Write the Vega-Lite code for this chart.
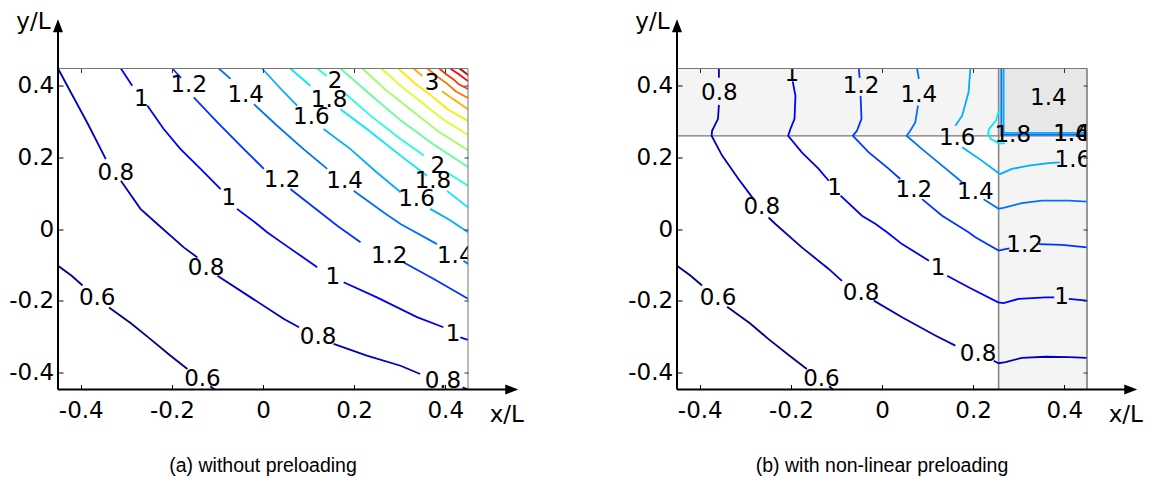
{
"$schema": "https://vega.github.io/schema/vega-lite/v6.json",
"background": "white",
"padding": {"left": 8, "top": 10.5, "right": 5, "bottom": 5},
"config": {"view": {"stroke": null}, "font": "DejaVu Sans"},
"bounds": "flush",
"spacing": 209,
"datasets": {
"aLines": [
{"s":"a06a","lv":0.6,"x":-0.45,"y":-0.102},{"s":"a06a","lv":0.6,"x":-0.42,"y":-0.13},{"s":"a06a","lv":0.6,"x":-0.396,"y":-0.157},
{"s":"a06b","lv":0.6,"x":-0.338,"y":-0.218},{"s":"a06b","lv":0.6,"x":-0.29,"y":-0.262},{"s":"a06b","lv":0.6,"x":-0.247,"y":-0.306},{"s":"a06b","lv":0.6,"x":-0.205,"y":-0.35},{"s":"a06b","lv":0.6,"x":-0.166,"y":-0.389},
{"s":"a06c","lv":0.6,"x":-0.116,"y":-0.437},{"s":"a06c","lv":0.6,"x":-0.106,"y":-0.446},
{"s":"a08a","lv":0.8,"x":-0.45,"y":0.446},{"s":"a08a","lv":0.8,"x":-0.422,"y":0.38},{"s":"a08a","lv":0.8,"x":-0.386,"y":0.296},{"s":"a08a","lv":0.8,"x":-0.345,"y":0.194},
{"s":"a08b","lv":0.8,"x":-0.312,"y":0.134},{"s":"a08b","lv":0.8,"x":-0.269,"y":0.056},{"s":"a08b","lv":0.8,"x":-0.232,"y":0.014},{"s":"a08b","lv":0.8,"x":-0.174,"y":-0.051},{"s":"a08b","lv":0.8,"x":-0.144,"y":-0.079},
{"s":"a08c","lv":0.8,"x":-0.1,"y":-0.13},{"s":"a08c","lv":0.8,"x":-0.027,"y":-0.19},{"s":"a08c","lv":0.8,"x":0.046,"y":-0.25},{"s":"a08c","lv":0.8,"x":0.079,"y":-0.273},
{"s":"a08d","lv":0.8,"x":0.155,"y":-0.319},{"s":"a08d","lv":0.8,"x":0.228,"y":-0.352},{"s":"a08d","lv":0.8,"x":0.302,"y":-0.38},{"s":"a08d","lv":0.8,"x":0.345,"y":-0.403},
{"s":"a08e","lv":0.8,"x":0.438,"y":-0.44},{"s":"a08e","lv":0.8,"x":0.45,"y":-0.446},
{"s":"a10a","lv":1.0,"x":-0.312,"y":0.446},{"s":"a10a","lv":1.0,"x":-0.287,"y":0.398},
{"s":"a10b","lv":1.0,"x":-0.254,"y":0.343},{"s":"a10b","lv":1.0,"x":-0.218,"y":0.278},{"s":"a10b","lv":1.0,"x":-0.181,"y":0.222},{"s":"a10b","lv":1.0,"x":-0.137,"y":0.167},{"s":"a10b","lv":1.0,"x":-0.093,"y":0.111},
{"s":"a10c","lv":1.0,"x":-0.057,"y":0.056},{"s":"a10c","lv":1.0,"x":-0.013,"y":0.014},{"s":"a10c","lv":1.0,"x":0.009,"y":-0.009},{"s":"a10c","lv":1.0,"x":0.046,"y":-0.042},{"s":"a10c","lv":1.0,"x":0.119,"y":-0.106},
{"s":"a10d","lv":1.0,"x":0.177,"y":-0.148},{"s":"a10d","lv":1.0,"x":0.25,"y":-0.19},{"s":"a10d","lv":1.0,"x":0.338,"y":-0.245},{"s":"a10d","lv":1.0,"x":0.396,"y":-0.273},
{"s":"a10e","lv":1.0,"x":0.433,"y":-0.301},{"s":"a10e","lv":1.0,"x":0.45,"y":-0.308},
{"s":"a12a","lv":1.2,"x":-0.199,"y":0.446},{"s":"a12a","lv":1.2,"x":-0.18,"y":0.42},
{"s":"a12b","lv":1.2,"x":-0.152,"y":0.366},{"s":"a12b","lv":1.2,"x":-0.1,"y":0.296},{"s":"a12b","lv":1.2,"x":-0.042,"y":0.222},{"s":"a12b","lv":1.2,"x":0.002,"y":0.167},
{"s":"a12c","lv":1.2,"x":0.06,"y":0.111},{"s":"a12c","lv":1.2,"x":0.126,"y":0.046},{"s":"a12c","lv":1.2,"x":0.163,"y":0.009},{"s":"a12c","lv":1.2,"x":0.214,"y":-0.037},
{"s":"a12d","lv":1.2,"x":0.309,"y":-0.093},{"s":"a12d","lv":1.2,"x":0.375,"y":-0.139},{"s":"a12d","lv":1.2,"x":0.45,"y":-0.194},
{"s":"a14a","lv":1.4,"x":-0.097,"y":0.446},{"s":"a14a","lv":1.4,"x":-0.071,"y":0.417},
{"s":"a14b","lv":1.4,"x":-0.02,"y":0.347},{"s":"a14b","lv":1.4,"x":0.031,"y":0.287},{"s":"a14b","lv":1.4,"x":0.089,"y":0.222},{"s":"a14b","lv":1.4,"x":0.141,"y":0.167},
{"s":"a14c","lv":1.4,"x":0.199,"y":0.106},{"s":"a14c","lv":1.4,"x":0.265,"y":0.046},{"s":"a14c","lv":1.4,"x":0.302,"y":0.014},{"s":"a14c","lv":1.4,"x":0.382,"y":-0.042},
{"s":"a14d","lv":1.4,"x":0.44,"y":-0.088},{"s":"a14d","lv":1.4,"x":0.45,"y":-0.097},
{"s":"a16a","lv":1.6,"x":-0.002,"y":0.446},{"s":"a16a","lv":1.6,"x":0.046,"y":0.38},{"s":"a16a","lv":1.6,"x":0.075,"y":0.343},
{"s":"a16b","lv":1.6,"x":0.133,"y":0.278},{"s":"a16b","lv":1.6,"x":0.192,"y":0.222},{"s":"a16b","lv":1.6,"x":0.25,"y":0.157},{"s":"a16b","lv":1.6,"x":0.302,"y":0.102},
{"s":"a16c","lv":1.6,"x":0.367,"y":0.056},{"s":"a16c","lv":1.6,"x":0.41,"y":0.025},{"s":"a16c","lv":1.6,"x":0.45,"y":-0.009},
{"s":"a18a","lv":1.8,"x":0.06,"y":0.446},{"s":"a18a","lv":1.8,"x":0.104,"y":0.398},
{"s":"a18b","lv":1.8,"x":0.17,"y":0.333},{"s":"a18b","lv":1.8,"x":0.228,"y":0.278},{"s":"a18b","lv":1.8,"x":0.302,"y":0.204},{"s":"a18b","lv":1.8,"x":0.36,"y":0.148},
{"s":"a18c","lv":1.8,"x":0.404,"y":0.106},{"s":"a18c","lv":1.8,"x":0.45,"y":0.06},
{"s":"a20a","lv":2.0,"x":0.119,"y":0.446},{"s":"a20a","lv":2.0,"x":0.14,"y":0.425},
{"s":"a20b","lv":2.0,"x":0.177,"y":0.38},{"s":"a20b","lv":2.0,"x":0.236,"y":0.315},{"s":"a20b","lv":2.0,"x":0.302,"y":0.25},{"s":"a20b","lv":2.0,"x":0.353,"y":0.204},
{"s":"a20c","lv":2.0,"x":0.404,"y":0.157},{"s":"a20c","lv":2.0,"x":0.45,"y":0.12},
{"s":"a22","lv":2.2,"x":0.17,"y":0.446},{"s":"a22","lv":2.2,"x":0.236,"y":0.373},{"s":"a22","lv":2.2,"x":0.302,"y":0.302},{"s":"a22","lv":2.2,"x":0.373,"y":0.236},{"s":"a22","lv":2.2,"x":0.45,"y":0.172},
{"s":"a24","lv":2.4,"x":0.218,"y":0.446},{"s":"a24","lv":2.4,"x":0.27,"y":0.386},{"s":"a24","lv":2.4,"x":0.328,"y":0.328},{"s":"a24","lv":2.4,"x":0.386,"y":0.27},{"s":"a24","lv":2.4,"x":0.45,"y":0.219},
{"s":"a26","lv":2.6,"x":0.26,"y":0.446},{"s":"a26","lv":2.6,"x":0.305,"y":0.395},{"s":"a26","lv":2.6,"x":0.35,"y":0.35},{"s":"a26","lv":2.6,"x":0.395,"y":0.305},{"s":"a26","lv":2.6,"x":0.45,"y":0.261},
{"s":"a28","lv":2.8,"x":0.297,"y":0.446},{"s":"a28","lv":2.8,"x":0.333,"y":0.405},{"s":"a28","lv":2.8,"x":0.37,"y":0.37},{"s":"a28","lv":2.8,"x":0.405,"y":0.333},{"s":"a28","lv":2.8,"x":0.45,"y":0.3},
{"s":"a30a","lv":3.0,"x":0.33,"y":0.446},{"s":"a30a","lv":3.0,"x":0.35,"y":0.425},
{"s":"a30b","lv":3.0,"x":0.393,"y":0.383},{"s":"a30b","lv":3.0,"x":0.415,"y":0.363},{"s":"a30b","lv":3.0,"x":0.45,"y":0.333},
{"s":"a32","lv":3.2,"x":0.361,"y":0.446},{"s":"a32","lv":3.2,"x":0.383,"y":0.423},{"s":"a32","lv":3.2,"x":0.404,"y":0.404},{"s":"a32","lv":3.2,"x":0.423,"y":0.383},{"s":"a32","lv":3.2,"x":0.45,"y":0.364},
{"s":"a34","lv":3.4,"x":0.387,"y":0.446},{"s":"a34","lv":3.4,"x":0.402,"y":0.43},{"s":"a34","lv":3.4,"x":0.417,"y":0.417},{"s":"a34","lv":3.4,"x":0.43,"y":0.402},{"s":"a34","lv":3.4,"x":0.45,"y":0.389},
{"s":"a36","lv":3.6,"x":0.411,"y":0.446},{"s":"a36","lv":3.6,"x":0.43,"y":0.43},{"s":"a36","lv":3.6,"x":0.45,"y":0.411},
{"s":"a38","lv":3.8,"x":0.431,"y":0.446},{"s":"a38","lv":3.8,"x":0.439,"y":0.439},{"s":"a38","lv":3.8,"x":0.45,"y":0.428}
],
"aLabels": [
{"t":"0.6","x":-0.364,"y":-0.192},{"t":"0.6","x":-0.133,"y":-0.417},
{"t":"0.8","x":-0.323,"y":0.157},{"t":"0.8","x":-0.125,"y":-0.107},{"t":"0.8","x":0.121,"y":-0.301},{"t":"0.8","x":0.395,"y":-0.421},
{"t":"1","x":-0.267,"y":0.36},{"t":"1","x":-0.075,"y":0.086},{"t":"1","x":0.153,"y":-0.132},{"t":"1","x":0.417,"y":-0.293},
{"t":"1.2","x":-0.163,"y":0.399},{"t":"1.2","x":0.042,"y":0.136},{"t":"1.2","x":0.277,"y":-0.074},
{"t":"1.4","x":-0.038,"y":0.371},{"t":"1.4","x":0.179,"y":0.132},{"t":"1.4","x":0.422,"y":-0.074},
{"t":"1.6","x":0.106,"y":0.31},{"t":"1.6","x":0.337,"y":0.083},
{"t":"1.8","x":0.145,"y":0.358},{"t":"1.8","x":0.373,"y":0.132},
{"t":"2","x":0.158,"y":0.41},{"t":"2","x":0.384,"y":0.176},
{"t":"3","x":0.371,"y":0.407}
],
"bLines": [
{"s":"b06a","lv":0.6,"x":-0.45,"y":-0.102},{"s":"b06a","lv":0.6,"x":-0.42,"y":-0.13},{"s":"b06a","lv":0.6,"x":-0.395,"y":-0.157},
{"s":"b06b","lv":0.6,"x":-0.34,"y":-0.216},{"s":"b06b","lv":0.6,"x":-0.29,"y":-0.262},{"s":"b06b","lv":0.6,"x":-0.249,"y":-0.306},{"s":"b06b","lv":0.6,"x":-0.205,"y":-0.35},{"s":"b06b","lv":0.6,"x":-0.165,"y":-0.389},
{"s":"b06c","lv":0.6,"x":-0.116,"y":-0.437},{"s":"b06c","lv":0.6,"x":-0.108,"y":-0.446},
{"s":"b08a","lv":0.8,"x":-0.358,"y":0.446},{"s":"b08a","lv":0.8,"x":-0.358,"y":0.42},
{"s":"b08b","lv":0.8,"x":-0.358,"y":0.345},{"s":"b08b","lv":0.8,"x":-0.36,"y":0.306},{"s":"b08b","lv":0.8,"x":-0.373,"y":0.273},{"s":"b08b","lv":0.8,"x":-0.374,"y":0.259},{"s":"b08b","lv":0.8,"x":-0.351,"y":0.204},{"s":"b08b","lv":0.8,"x":-0.315,"y":0.139},{"s":"b08b","lv":0.8,"x":-0.282,"y":0.083},
{"s":"b08c","lv":0.8,"x":-0.249,"y":0.032},{"s":"b08c","lv":0.8,"x":-0.234,"y":0.014},{"s":"b08c","lv":0.8,"x":-0.176,"y":-0.051},{"s":"b08c","lv":0.8,"x":-0.117,"y":-0.111},{"s":"b08c","lv":0.8,"x":-0.088,"y":-0.144},
{"s":"b08d","lv":0.8,"x":-0.018,"y":-0.199},{"s":"b08d","lv":0.8,"x":0.044,"y":-0.245},{"s":"b08d","lv":0.8,"x":0.117,"y":-0.296},{"s":"b08d","lv":0.8,"x":0.161,"y":-0.324},
{"s":"b08e","lv":0.8,"x":0.245,"y":-0.366},{"s":"b08e","lv":0.8,"x":0.256,"y":-0.373},{"s":"b08e","lv":0.8,"x":0.271,"y":-0.37},{"s":"b08e","lv":0.8,"x":0.307,"y":-0.358},{"s":"b08e","lv":0.8,"x":0.359,"y":-0.355},{"s":"b08e","lv":0.8,"x":0.41,"y":-0.356},{"s":"b08e","lv":0.8,"x":0.45,"y":-0.358},
{"s":"b10a","lv":1.0,"x":-0.196,"y":0.41},{"s":"b10a","lv":1.0,"x":-0.19,"y":0.37},{"s":"b10a","lv":1.0,"x":-0.192,"y":0.306},{"s":"b10a","lv":1.0,"x":-0.201,"y":0.278},{"s":"b10a","lv":1.0,"x":-0.206,"y":0.259},{"s":"b10a","lv":1.0,"x":-0.176,"y":0.213},{"s":"b10a","lv":1.0,"x":-0.139,"y":0.167},{"s":"b10a","lv":1.0,"x":-0.117,"y":0.134},
{"s":"b10b","lv":1.0,"x":-0.091,"y":0.093},{"s":"b10b","lv":1.0,"x":-0.044,"y":0.037},{"s":"b10b","lv":1.0,"x":-0.014,"y":0.014},{"s":"b10b","lv":1.0,"x":0.011,"y":-0.009},{"s":"b10b","lv":1.0,"x":0.044,"y":-0.042},{"s":"b10b","lv":1.0,"x":0.103,"y":-0.088},
{"s":"b10c","lv":1.0,"x":0.143,"y":-0.13},{"s":"b10c","lv":1.0,"x":0.19,"y":-0.162},{"s":"b10c","lv":1.0,"x":0.255,"y":-0.204},{"s":"b10c","lv":1.0,"x":0.267,"y":-0.206},{"s":"b10c","lv":1.0,"x":0.3,"y":-0.194},{"s":"b10c","lv":1.0,"x":0.359,"y":-0.19},{"s":"b10c","lv":1.0,"x":0.378,"y":-0.19},
{"s":"b10d","lv":1.0,"x":0.41,"y":-0.194},{"s":"b10d","lv":1.0,"x":0.45,"y":-0.199},
{"s":"b12a","lv":1.2,"x":-0.051,"y":0.446},{"s":"b12a","lv":1.2,"x":-0.049,"y":0.42},
{"s":"b12b","lv":1.2,"x":-0.047,"y":0.37},{"s":"b12b","lv":1.2,"x":-0.045,"y":0.306},{"s":"b12b","lv":1.2,"x":-0.055,"y":0.273},{"s":"b12b","lv":1.2,"x":-0.064,"y":0.259},{"s":"b12b","lv":1.2,"x":-0.029,"y":0.213},{"s":"b12b","lv":1.2,"x":0.015,"y":0.167},{"s":"b12b","lv":1.2,"x":0.04,"y":0.139},
{"s":"b12c","lv":1.2,"x":0.088,"y":0.083},{"s":"b12c","lv":1.2,"x":0.132,"y":0.037},{"s":"b12c","lv":1.2,"x":0.161,"y":0.014},{"s":"b12c","lv":1.2,"x":0.19,"y":-0.009},{"s":"b12c","lv":1.2,"x":0.205,"y":-0.023},{"s":"b12c","lv":1.2,"x":0.256,"y":-0.06},{"s":"b12c","lv":1.2,"x":0.271,"y":-0.056},{"s":"b12c","lv":1.2,"x":0.28,"y":-0.054},
{"s":"b12d","lv":1.2,"x":0.344,"y":-0.042},{"s":"b12d","lv":1.2,"x":0.395,"y":-0.044},{"s":"b12d","lv":1.2,"x":0.45,"y":-0.051},
{"s":"b14a","lv":1.4,"x":0.077,"y":0.446},{"s":"b14a","lv":1.4,"x":0.081,"y":0.417},
{"s":"b14b","lv":1.4,"x":0.079,"y":0.343},{"s":"b14b","lv":1.4,"x":0.073,"y":0.296},{"s":"b14b","lv":1.4,"x":0.062,"y":0.273},{"s":"b14b","lv":1.4,"x":0.054,"y":0.259},{"s":"b14b","lv":1.4,"x":0.088,"y":0.222},{"s":"b14b","lv":1.4,"x":0.132,"y":0.176},{"s":"b14b","lv":1.4,"x":0.176,"y":0.13},
{"s":"b14c","lv":1.4,"x":0.223,"y":0.083},{"s":"b14c","lv":1.4,"x":0.256,"y":0.056},{"s":"b14c","lv":1.4,"x":0.271,"y":0.06},{"s":"b14c","lv":1.4,"x":0.307,"y":0.072},{"s":"b14c","lv":1.4,"x":0.351,"y":0.079},{"s":"b14c","lv":1.4,"x":0.41,"y":0.079},{"s":"b14c","lv":1.4,"x":0.45,"y":0.076},
{"s":"b14x","lv":1.4,"x":0.262,"y":0.446},{"s":"b14x","lv":1.4,"x":0.262,"y":0.262},{"s":"b14x","lv":1.4,"x":0.45,"y":0.262},
{"s":"b16a","lv":1.6,"x":0.194,"y":0.446},{"s":"b16a","lv":1.6,"x":0.19,"y":0.38},{"s":"b16a","lv":1.6,"x":0.176,"y":0.315},{"s":"b16a","lv":1.6,"x":0.161,"y":0.287},
{"s":"b16b","lv":1.6,"x":0.176,"y":0.227},{"s":"b16b","lv":1.6,"x":0.219,"y":0.19},{"s":"b16b","lv":1.6,"x":0.256,"y":0.155},{"s":"b16b","lv":1.6,"x":0.26,"y":0.153},{"s":"b16b","lv":1.6,"x":0.285,"y":0.167},{"s":"b16b","lv":1.6,"x":0.322,"y":0.176},{"s":"b16b","lv":1.6,"x":0.366,"y":0.183},{"s":"b16b","lv":1.6,"x":0.39,"y":0.185},
{"s":"b16x","lv":1.6,"x":0.267,"y":0.446},{"s":"b16x","lv":1.6,"x":0.267,"y":0.267},{"s":"b16x","lv":1.6,"x":0.45,"y":0.267},
{"s":"b18a","lv":1.8,"x":0.257,"y":0.33},{"s":"b18a","lv":1.8,"x":0.25,"y":0.301},{"s":"b18a","lv":1.8,"x":0.235,"y":0.278},{"s":"b18a","lv":1.8,"x":0.233,"y":0.264},{"s":"b18a","lv":1.8,"x":0.239,"y":0.25},{"s":"b18a","lv":1.8,"x":0.257,"y":0.238},{"s":"b18a","lv":1.8,"x":0.27,"y":0.238}
],
"bLabels": [
{"t":"0.6","x":-0.36,"y":-0.192},{"t":"0.6","x":-0.133,"y":-0.417},
{"t":"0.8","x":-0.357,"y":0.379},{"t":"0.8","x":-0.264,"y":0.06},{"t":"0.8","x":-0.046,"y":-0.178},{"t":"0.8","x":0.211,"y":-0.347},
{"t":"1","x":-0.198,"y":0.432},{"t":"1","x":-0.104,"y":0.115},{"t":"1","x":0.123,"y":-0.108},{"t":"1","x":0.394,"y":-0.19},
{"t":"1.2","x":-0.046,"y":0.396},{"t":"1.2","x":0.07,"y":0.108},{"t":"1.2","x":0.313,"y":-0.044},
{"t":"1.4","x":0.081,"y":0.371},{"t":"1.4","x":0.205,"y":0.104},{"t":"1.4","x":0.365,"y":0.364},{"t":"1.4","x":0.416,"y":0.264},
{"t":"1.6","x":0.165,"y":0.253},{"t":"1.6","x":0.419,"y":0.192},{"t":"1.6","x":0.416,"y":0.264},
{"t":"1.8","x":0.287,"y":0.26}
]
},
"hconcat": [
{
"width": 410, "height": 321,
"resolve": {"axis": {"x": "independent", "y": "independent"}},
"layer": [
{"data": {"name": "aLines"}, "mark": {"type": "line", "strokeWidth": 1.8},
 "encoding": {
  "x": {"field": "x", "type": "quantitative", "scale": {"domain": [-0.45, 0.45], "nice": false, "zero": false},
        "axis": {"orient": "bottom", "values": [-0.4, -0.2, 0, 0.2, 0.4], "title": null, "domain": false, "grid": false, "tickSize": -5, "tickColor": "#000", "labelFont": "DejaVu Sans", "labelFontSize": 23, "labelColor": "#000", "labelPadding": 15, "labelFlush": false, "labelOverlap": false, "labelExpr": "datum.value == 0 ? '0' : replace(datum.label, '−', '-')", "zindex": 2}},
  "y": {"field": "y", "type": "quantitative", "scale": {"domain": [-0.446, 0.446], "nice": false, "zero": false},
        "axis": {"orient": "left", "values": [-0.4, -0.2, 0, 0.2, 0.4], "title": null, "domain": false, "grid": false, "tickSize": -5, "tickColor": "#000", "labelFont": "DejaVu Sans", "labelFontSize": 23, "labelColor": "#000", "labelPadding": 9.3, "labelFlush": false, "labelOverlap": false, "labelExpr": "datum.value == 0 ? '0' : replace(datum.label, '−', '-')", "zindex": 2}},
  "color": {"field": "lv", "type": "quantitative", "scale": {"type": "linear", "domain": [0.6, 1.025, 1.875, 2.725, 3.575, 4.0], "range": ["#000080", "#0000ff", "#00ffff", "#ffff00", "#ff0000", "#800000"], "interpolate": "rgb"}, "legend": null},
  "detail": {"field": "s", "type": "nominal"},
  "order": {"value": null}
 }},
{"data": {"name": "aLabels"}, "mark": {"type": "text", "font": "DejaVu Sans", "fontSize": 23, "color": "#000", "clip": true, "baseline": "middle", "align": "center"},
 "encoding": {
  "x": {"field": "x", "type": "quantitative", "scale": {"domain": [-0.45, 0.45], "nice": false, "zero": false},
        "axis": {"orient": "top", "values": [-0.4, -0.2, 0, 0.2, 0.4], "title": null, "domain": false, "grid": false, "labels": false, "tickSize": -4, "tickColor": "#333", "zindex": 2}},
  "y": {"field": "y", "type": "quantitative", "scale": {"domain": [-0.446, 0.446], "nice": false, "zero": false},
        "axis": {"orient": "right", "values": [-0.4, -0.2, 0, 0.2, 0.4], "title": null, "domain": false, "grid": false, "labels": false, "tickSize": -4, "tickColor": "#333", "zindex": 2}},
  "text": {"field": "t", "type": "nominal"}
 }},
{"data": {"values": [{}]}, "mark": {"type": "rule", "color": "#777", "strokeWidth": 1},
 "encoding": {"x": {"datum": -0.45, "type": "quantitative", "axis": null}, "x2": {"datum": 0.45}, "y": {"datum": 0.446, "type": "quantitative", "axis": null}}},
{"data": {"values": [{}]}, "mark": {"type": "rule", "color": "#777", "strokeWidth": 1},
 "encoding": {"x": {"datum": 0.45, "type": "quantitative", "axis": null}, "y": {"datum": -0.446, "type": "quantitative", "axis": null}, "y2": {"datum": 0.446}}},
{"data": {"values": [{}]}, "mark": {"type": "rule", "color": "#000", "strokeWidth": 2},
 "encoding": {"x": {"datum": -0.45, "type": "quantitative", "axis": null}, "y": {"datum": -0.446, "type": "quantitative", "axis": null}, "y2": {"datum": 0.55}}},
{"data": {"values": [{}]}, "mark": {"type": "rule", "color": "#000", "strokeWidth": 2},
 "encoding": {"x": {"datum": -0.45, "type": "quantitative", "axis": null}, "x2": {"datum": 0.535}, "y": {"datum": -0.446, "type": "quantitative", "axis": null}}},
{"data": {"values": [{}]}, "mark": {"type": "point", "shape": "M0,-1L0.77,1L-0.77,1Z", "size": 169, "filled": true, "color": "#000", "opacity": 1},
 "encoding": {"x": {"datum": -0.45, "type": "quantitative", "axis": null}, "y": {"datum": 0.565, "type": "quantitative", "axis": null}}},
{"data": {"values": [{}]}, "mark": {"type": "point", "shape": "M1,0L-1,0.77L-1,-0.77Z", "size": 169, "filled": true, "color": "#000", "opacity": 1},
 "encoding": {"x": {"datum": 0.546, "type": "quantitative", "axis": null}, "y": {"datum": -0.446, "type": "quantitative", "axis": null}}},
{"data": {"values": [{}]}, "mark": {"type": "text", "font": "DejaVu Sans", "fontSize": 23, "color": "#000", "baseline": "middle", "align": "center"},
 "encoding": {"x": {"datum": -0.504, "type": "quantitative", "axis": null}, "y": {"datum": 0.576, "type": "quantitative", "axis": null}, "text": {"value": "y/L"}}},
{"data": {"values": [{}]}, "mark": {"type": "text", "font": "DejaVu Sans", "fontSize": 23, "color": "#000", "baseline": "middle", "align": "center"},
 "encoding": {"x": {"datum": 0.535, "type": "quantitative", "axis": null}, "y": {"datum": -0.517, "type": "quantitative", "axis": null}, "text": {"value": "x/L"}}},
{"data": {"values": [{}]}, "mark": {"type": "text", "font": "Liberation Sans", "fontSize": 19.5, "color": "#000", "baseline": "middle", "align": "center"},
 "encoding": {"x": {"datum": 0, "type": "quantitative", "axis": null}, "y": {"datum": -0.658, "type": "quantitative", "axis": null}, "text": {"value": "(a) without preloading"}}}
]
},
{
"width": 410, "height": 321,
"resolve": {"axis": {"x": "independent", "y": "independent"}},
"layer": [
{"data": {"values": [{}]}, "mark": {"type": "rect", "fill": "#f4f4f4", "stroke": null},
 "encoding": {"x": {"datum": -0.45, "type": "quantitative", "axis": null, "scale": {"domain": [-0.45, 0.45], "nice": false, "zero": false}}, "x2": {"datum": 0.256}, "y": {"datum": 0.259, "type": "quantitative", "axis": null, "scale": {"domain": [-0.446, 0.446], "nice": false, "zero": false}}, "y2": {"datum": 0.446}}},
{"data": {"values": [{}]}, "mark": {"type": "rect", "fill": "#f4f4f4", "stroke": null},
 "encoding": {"x": {"datum": 0.256, "type": "quantitative", "axis": null}, "x2": {"datum": 0.45}, "y": {"datum": -0.446, "type": "quantitative", "axis": null}, "y2": {"datum": 0.259}}},
{"data": {"values": [{}]}, "mark": {"type": "rect", "fill": "#e7e7e7", "stroke": null},
 "encoding": {"x": {"datum": 0.256, "type": "quantitative", "axis": null}, "x2": {"datum": 0.45}, "y": {"datum": 0.259, "type": "quantitative", "axis": null}, "y2": {"datum": 0.446}}},
{"data": {"values": [{}]}, "mark": {"type": "rule", "color": "#777", "strokeWidth": 1.3},
 "encoding": {"x": {"datum": -0.45, "type": "quantitative", "axis": null}, "x2": {"datum": 0.45}, "y": {"datum": 0.259, "type": "quantitative", "axis": null}}},
{"data": {"values": [{}]}, "mark": {"type": "rule", "color": "#888", "strokeWidth": 1.6},
 "encoding": {"x": {"datum": 0.256, "type": "quantitative", "axis": null}, "y": {"datum": -0.446, "type": "quantitative", "axis": null}, "y2": {"datum": 0.446}}},
{"data": {"name": "bLines"}, "mark": {"type": "line", "strokeWidth": 1.8},
 "encoding": {
  "x": {"field": "x", "type": "quantitative", "scale": {"domain": [-0.45, 0.45], "nice": false, "zero": false},
        "axis": {"orient": "bottom", "values": [-0.4, -0.2, 0, 0.2, 0.4], "title": null, "domain": false, "grid": false, "tickSize": -5, "tickColor": "#000", "labelFont": "DejaVu Sans", "labelFontSize": 23, "labelColor": "#000", "labelPadding": 15, "labelFlush": false, "labelOverlap": false, "labelExpr": "datum.value == 0 ? '0' : replace(datum.label, '−', '-')", "zindex": 2}},
  "y": {"field": "y", "type": "quantitative", "scale": {"domain": [-0.446, 0.446], "nice": false, "zero": false},
        "axis": {"orient": "left", "values": [-0.4, -0.2, 0, 0.2, 0.4], "title": null, "domain": false, "grid": false, "tickSize": -5, "tickColor": "#000", "labelFont": "DejaVu Sans", "labelFontSize": 23, "labelColor": "#000", "labelPadding": 9.3, "labelFlush": false, "labelOverlap": false, "labelExpr": "datum.value == 0 ? '0' : replace(datum.label, '−', '-')", "zindex": 2}},
  "color": {"field": "lv", "type": "quantitative", "scale": {"type": "linear", "domain": [0.6, 1.025, 1.875, 2.725, 3.575, 4.0], "range": ["#000080", "#0000ff", "#00ffff", "#ffff00", "#ff0000", "#800000"], "interpolate": "rgb"}, "legend": null},
  "detail": {"field": "s", "type": "nominal"},
  "order": {"value": null}
 }},
{"data": {"name": "bLabels"}, "mark": {"type": "text", "font": "DejaVu Sans", "fontSize": 23, "color": "#000", "clip": true, "baseline": "middle", "align": "center"},
 "encoding": {
  "x": {"field": "x", "type": "quantitative", "scale": {"domain": [-0.45, 0.45], "nice": false, "zero": false},
        "axis": {"orient": "top", "values": [-0.4, -0.2, 0, 0.2, 0.4], "title": null, "domain": false, "grid": false, "labels": false, "tickSize": -4, "tickColor": "#333", "zindex": 2}},
  "y": {"field": "y", "type": "quantitative", "scale": {"domain": [-0.446, 0.446], "nice": false, "zero": false},
        "axis": {"orient": "right", "values": [-0.4, -0.2, 0, 0.2, 0.4], "title": null, "domain": false, "grid": false, "labels": false, "tickSize": -4, "tickColor": "#333", "zindex": 2}},
  "text": {"field": "t", "type": "nominal"}
 }},
{"data": {"values": [{}]}, "mark": {"type": "rule", "color": "#777", "strokeWidth": 1},
 "encoding": {"x": {"datum": -0.45, "type": "quantitative", "axis": null}, "x2": {"datum": 0.45}, "y": {"datum": 0.446, "type": "quantitative", "axis": null}}},
{"data": {"values": [{}]}, "mark": {"type": "rule", "color": "#777", "strokeWidth": 1.5},
 "encoding": {"x": {"datum": 0.45, "type": "quantitative", "axis": null}, "y": {"datum": -0.446, "type": "quantitative", "axis": null}, "y2": {"datum": 0.446}}},
{"data": {"values": [{}]}, "mark": {"type": "rule", "color": "#000", "strokeWidth": 2},
 "encoding": {"x": {"datum": -0.45, "type": "quantitative", "axis": null}, "y": {"datum": -0.446, "type": "quantitative", "axis": null}, "y2": {"datum": 0.55}}},
{"data": {"values": [{}]}, "mark": {"type": "rule", "color": "#000", "strokeWidth": 2},
 "encoding": {"x": {"datum": -0.45, "type": "quantitative", "axis": null}, "x2": {"datum": 0.535}, "y": {"datum": -0.446, "type": "quantitative", "axis": null}}},
{"data": {"values": [{}]}, "mark": {"type": "point", "shape": "M0,-1L0.77,1L-0.77,1Z", "size": 169, "filled": true, "color": "#000", "opacity": 1},
 "encoding": {"x": {"datum": -0.45, "type": "quantitative", "axis": null}, "y": {"datum": 0.565, "type": "quantitative", "axis": null}}},
{"data": {"values": [{}]}, "mark": {"type": "point", "shape": "M1,0L-1,0.77L-1,-0.77Z", "size": 169, "filled": true, "color": "#000", "opacity": 1},
 "encoding": {"x": {"datum": 0.546, "type": "quantitative", "axis": null}, "y": {"datum": -0.446, "type": "quantitative", "axis": null}}},
{"data": {"values": [{}]}, "mark": {"type": "text", "font": "DejaVu Sans", "fontSize": 23, "color": "#000", "baseline": "middle", "align": "center"},
 "encoding": {"x": {"datum": -0.504, "type": "quantitative", "axis": null}, "y": {"datum": 0.576, "type": "quantitative", "axis": null}, "text": {"value": "y/L"}}},
{"data": {"values": [{}]}, "mark": {"type": "text", "font": "DejaVu Sans", "fontSize": 23, "color": "#000", "baseline": "middle", "align": "center"},
 "encoding": {"x": {"datum": 0.535, "type": "quantitative", "axis": null}, "y": {"datum": -0.517, "type": "quantitative", "axis": null}, "text": {"value": "x/L"}}},
{"data": {"values": [{}]}, "mark": {"type": "text", "font": "Liberation Sans", "fontSize": 19.5, "color": "#000", "baseline": "middle", "align": "center"},
 "encoding": {"x": {"datum": 0, "type": "quantitative", "axis": null}, "y": {"datum": -0.658, "type": "quantitative", "axis": null}, "text": {"value": "(b) with non-linear preloading"}}}
]
}
]
}
